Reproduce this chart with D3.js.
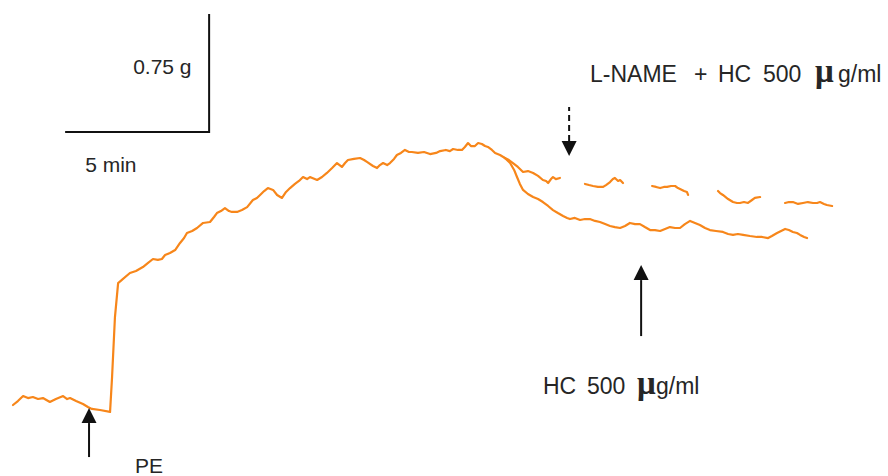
<!DOCTYPE html>
<html>
<head>
<meta charset="utf-8">
<script src="https://cdn.jsdelivr.net/npm/d3@7/dist/d3.min.js"></script>
<style>
  html, body { margin: 0; padding: 0; background: #fff; }
  svg { display: block; }
  text { font-family: "Liberation Sans", Arial, sans-serif; fill: #262626; }
</style>
</head>
<body>
<svg id="chart" width="888" height="476"></svg>
<script>
// Isometric tension recording: time in minutes, tension in grams (relative to resting baseline)

// Resting tone, PE-induced contraction and plateau up to the point where the two runs diverge
const contractionTrace = [
  [0,0],[0.17,0.025],[0.35,0.057],[0.52,0.044],[0.69,0.051],[0.87,0.038],[1.04,0.044],[1.28,0.019],
  [1.49,0.038],[1.74,0.057],[1.88,0.038],[1.98,0.044],[2.19,0.025],[2.43,0.006],[2.60,-0.013],[2.74,-0.025],
  [3.02,-0.032],[3.37,-0.044],[3.44,0.178],[3.54,0.559],[3.65,0.775],[3.78,0.795],[4.06,0.839],[4.27,0.852],
  [4.51,0.877],[4.69,0.903],[4.86,0.928],[5.03,0.922],[5.17,0.928],[5.28,0.953],[5.45,0.966],[5.63,0.985],
  [5.80,1.030],[5.94,1.061],[6.04,1.093],[6.22,1.106],[6.39,1.125],[6.60,1.157],[6.84,1.163],[6.98,1.195],
  [7.08,1.220],[7.22,1.233],[7.36,1.252],[7.50,1.233],[7.60,1.227],[7.78,1.227],[7.95,1.239],[8.13,1.258],
  [8.33,1.303],[8.47,1.316],[8.58,1.335],[8.72,1.360],[8.85,1.379],[9.03,1.367],[9.17,1.335],[9.34,1.316],
  [9.48,1.354],[9.62,1.379],[9.79,1.405],[9.93,1.424],[10.07,1.449],[10.21,1.436],[10.31,1.449],[10.56,1.430],
  [10.73,1.449],[10.90,1.475],[11.08,1.506],[11.25,1.538],[11.42,1.513],[11.53,1.538],[11.63,1.557],[11.84,1.564],
  [12.05,1.570],[12.19,1.557],[12.29,1.545],[12.50,1.519],[12.64,1.506],[12.74,1.525],[12.85,1.538],[12.99,1.525],
  [13.09,1.538],[13.23,1.564],[13.33,1.589],[13.47,1.602],[13.61,1.621],[13.75,1.608],[13.85,1.608],[14.06,1.602],
  [14.27,1.608],[14.48,1.595],[14.69,1.602],[14.83,1.614],[15.03,1.621],[15.17,1.614],[15.28,1.627],[15.45,1.621],
  [15.59,1.621],[15.69,1.640],[15.80,1.665],[15.90,1.646],[16.04,1.646],[16.15,1.665],[16.28,1.659],[16.39,1.646],
  [16.49,1.640],[16.63,1.621],[16.74,1.602],[16.91,1.589],[17.08,1.570]
];

// Relaxation after HC 500 µg/ml alone
const hcTrace = [
  [17.08,1.570],[17.26,1.538],[17.40,1.494],[17.50,1.449],[17.60,1.405],[17.71,1.367],[17.88,1.341],[18.06,1.322],
  [18.23,1.309],[18.40,1.290],[18.58,1.265],[18.75,1.239],[18.92,1.220],[19.10,1.201],[19.24,1.189],[19.34,1.182],
  [19.51,1.189],[19.69,1.176],[19.86,1.182],[20.03,1.182],[20.21,1.170],[20.38,1.163],[20.56,1.150],[20.73,1.138],
  [20.90,1.131],[21.08,1.125],[21.25,1.138],[21.42,1.157],[21.60,1.150],[21.77,1.150],[21.94,1.131],[22.12,1.112],
  [22.29,1.112],[22.47,1.106],[22.64,1.119],[22.81,1.131],[22.99,1.125],[23.16,1.125],[23.33,1.150],[23.51,1.170],
  [23.68,1.157],[23.85,1.144],[24.03,1.125],[24.20,1.112],[24.41,1.106],[24.65,1.100],[24.83,1.087],[25.00,1.081],
  [25.17,1.087],[25.35,1.081],[25.59,1.074],[25.83,1.068],[26.01,1.068],[26.22,1.061],[26.35,1.074],[26.53,1.093],
  [26.67,1.106],[26.81,1.119],[26.94,1.112],[27.08,1.100],[27.22,1.093],[27.33,1.081],[27.47,1.068],[27.57,1.061]
];

// Response to L-NAME + HC 500 µg/ml; null marks breaks in the recording
const lnameHcTrace = [
  [17.08,1.570],[17.22,1.557],[17.36,1.538],[17.53,1.513],[17.71,1.481],[17.88,1.487],[18.06,1.475],[18.23,1.456],
  [18.40,1.430],[18.51,1.424],[18.58,1.411],[18.68,1.436],[18.75,1.449],[18.85,1.436],[18.99,1.443],
  null,
  [19.86,1.405],[20.00,1.398],[20.14,1.392],[20.31,1.386],[20.49,1.386],[20.59,1.398],[20.73,1.417],[20.83,1.436],
  [20.90,1.443],[21.01,1.424],[21.08,1.430],[21.18,1.411],
  null,
  [22.19,1.392],[22.33,1.386],[22.47,1.379],[22.60,1.386],[22.71,1.386],[22.85,1.392],[22.99,1.392],[23.09,1.379],
  [23.16,1.373],[23.30,1.360],[23.40,1.354],[23.44,1.335],
  null,
  [24.48,1.360],[24.55,1.347],[24.65,1.335],[24.83,1.309],[25.00,1.290],[25.14,1.284],[25.24,1.284],[25.38,1.290],
  [25.52,1.284],[25.66,1.303],[25.76,1.316],[25.94,1.322],
  null,
  [26.81,1.284],[26.94,1.290],[27.08,1.290],[27.26,1.278],[27.43,1.284],[27.60,1.290],[27.78,1.284],[27.92,1.284],
  [28.02,1.290],[28.16,1.278],[28.26,1.271],[28.44,1.265]
];

// Drug additions (minutes)
const eventNames = ["PE", "HC 500", "L-NAME + HC 500"];
const eventTimes = [2.64, 21.81, 19.31];

// Calibration bar values
const scaleBarTime = 5;      // min
const scaleBarTension = 0.75; // g
const scaleBarLabels = ["0.75 g", "5 min"];

// Layout
const svg = d3.select("#chart");
const x = d3.scaleLinear().domain([0, 29]).range([13, 13 + 29 * 28.8]);
const y = d3.scaleLinear().domain([0, 2.5]).range([405, 405 - 2.5 * 157.33]);
const traceColor = "#f7861a";

const line = d3.line()
  .defined(d => d !== null)
  .x(d => x(d[0]))
  .y(d => y(d[1]));

const traces = svg.append("g").attr("fill", "none").attr("stroke", traceColor)
  .attr("stroke-width", 2.2).attr("stroke-linejoin", "round").attr("stroke-linecap", "round");
[contractionTrace, hcTrace, lnameHcTrace].forEach(data => {
  traces.append("path").attr("d", line(data));
});

// Calibration bar: corner anchored at 1.81 min / 1.735 g
const barT0 = 1.81, barG0 = 1.735;
const bar = svg.append("g").attr("stroke", "#111").attr("stroke-width", 2).attr("fill", "none");
bar.append("path").attr("d",
  `M${x(barT0)},${y(barG0)} H${x(barT0 + scaleBarTime)} V${y(barG0 + scaleBarTension)}`);
svg.append("text").attr("x", x(barT0 + scaleBarTime) - 76).attr("y", y(barG0 + scaleBarTension / 2) + 1)
  .attr("font-size", 21).text(scaleBarLabels[0]);
svg.append("text").attr("x", x(barT0) + 20).attr("y", y(barG0) + 40)
  .attr("font-size", 21).text(scaleBarLabels[1]);

// Arrow helper: tip at (tx, ty), shaft extends len px (dir 1 = below tip, -1 = above)
function arrow(tx, ty, dir, len, dashed) {
  const g = svg.append("g");
  const head = 15, half = 7.5;
  g.append("line")
    .attr("x1", tx).attr("x2", tx)
    .attr("y1", ty + dir * head).attr("y2", ty + dir * len)
    .attr("stroke", "#111").attr("stroke-width", 2)
    .attr("stroke-dasharray", dashed ? "6,4" : null);
  g.append("path")
    .attr("d", `M${tx},${ty} L${tx - half},${ty + dir * head} L${tx + half},${ty + dir * head} Z`)
    .attr("fill", "#111");
}

// PE: arrow from below pointing up to the trace
arrow(x(eventTimes[0]), y(-0.013) + 1, 1, 49, false);
svg.append("text").attr("x", x(eventTimes[0]) + 46).attr("y", 473).attr("font-size", 21).text(eventNames[0]);

// HC 500 µg/ml: arrow from below
arrow(x(eventTimes[1]), y(1.150) + 41, 1, 71, false);
const hcLabel = svg.append("text").attr("y", 394).attr("font-size", 23);
hcLabel.append("tspan").attr("x", 543).text("HC");
hcLabel.append("tspan").attr("x", 587).text("500");
hcLabel.append("tspan").attr("x", 637).attr("font-family", "'Liberation Serif', serif")
  .attr("font-weight", "bold").attr("font-size", 33).text("\u03BC");
hcLabel.append("tspan").attr("x", 656).text("g/ml");

// L-NAME + HC 500 µg/ml: dashed arrow from above
arrow(x(eventTimes[2]), 156, -1, 49, true);
const lnLabel = svg.append("text").attr("y", 81.5).attr("font-size", 23);
lnLabel.append("tspan").attr("x", 590).text("L-NAME");
lnLabel.append("tspan").attr("x", 694).text("+");
lnLabel.append("tspan").attr("x", 718).text("HC");
lnLabel.append("tspan").attr("x", 763).text("500");
lnLabel.append("tspan").attr("x", 815).attr("font-family", "'Liberation Serif', serif")
  .attr("font-weight", "bold").attr("font-size", 33).text("\u03BC");
lnLabel.append("tspan").attr("x", 838).text("g/ml");
</script>
</body>
</html>
